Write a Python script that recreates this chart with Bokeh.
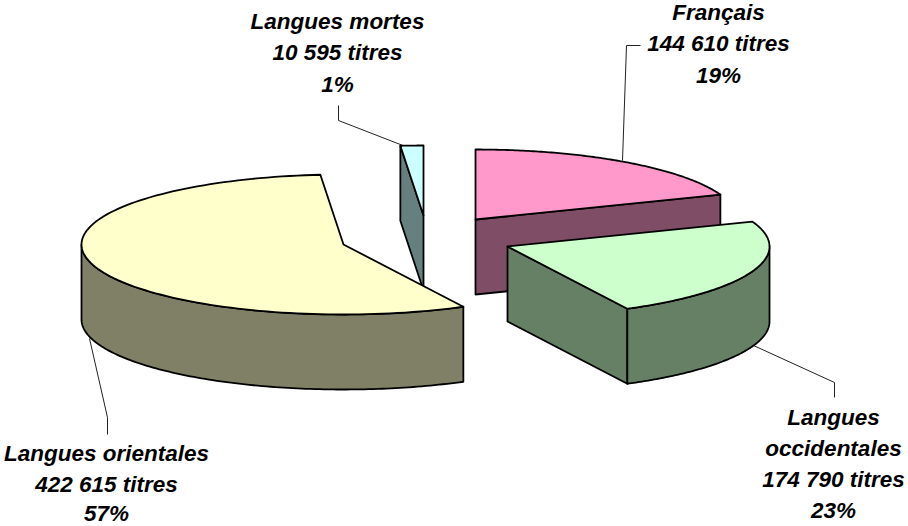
import numpy as np
from bokeh.plotting import figure
from bokeh.models import Range1d
from bokeh.core.properties import value
from bokeh.embed import file_html
from bokeh.resources import INLINE

# Data
categories = ["Français", "Langues occidentales", "Langues orientales", "Langues mortes"]
titres = [144610, 174790, 422615, 10595]
top_colors = ["#FF99CC", "#CCFFCC", "#FFFFCC", "#CCFFFF"]
side_colors = ["#804D66", "#668066", "#808066", "#668080"]

label_lines = ["Français", "144 610 titres", "19%",
               "Langues", "occidentales", "174 790 titres", "23%",
               "Langues orientales", "422 615 titres", "57%",
               "Langues mortes", "10 595 titres", "1%"]
label_x = [718, 718, 718, 833, 833, 833, 833, 106, 106, 106, 337, 337, 337]
label_y = [12, 43, 75, 417, 448, 479, 510, 453, 484, 512.5, 21, 52, 84]

# Exploded slice centres (screen pixels)
centres = {"Français": (475, 219), "Langues occidentales": (507, 246),
           "Langues orientales": (343, 244), "Langues mortes": (423, 215)}
RX, RY, DEPTH = 262, 70, 75
LW = 1.8

leaders = [([622, 626, 640], [160, 45, 45]),
           ([753, 834, 834], [345, 382, 397]),
           ([89, 107, 107], [338, 417, 434]),
           ([338, 338, 405], [105, 120, 146])]

p = figure(width=908, height=526, output_backend="svg", toolbar_location=None,
           x_range=Range1d(0, 908), y_range=Range1d(526, 0),
           x_axis_type=None, y_axis_type=None, min_border=0,
           outline_line_color=None, background_fill_color="white")
p.styles = {"position": "absolute", "left": "0px", "top": "0px"}
p.grid.visible = False

total = sum(titres)
angles = np.cumsum([0] + [t / total * 360 for t in titres])
span = {c: (angles[i], angles[i + 1]) for i, c in enumerate(categories)}


def rim(c, a0, a1, dz=0, n=120):
    cx, cy = centres[c]
    th = np.radians(np.linspace(a0, a1, n))
    return cx + RX * np.sin(th), cy - RY * np.cos(th) + dz


def pt(c, a):
    x, y = rim(c, a, a, n=1)
    return float(x[0]), float(y[0])


def draw_slice(c, cut_angle=None, outer=None):
    i = categories.index(c)
    a0, a1 = span[c]
    cx, cy = centres[c]
    kw = dict(line_color="black", line_width=LW, line_join="round")
    if cut_angle is not None:
        x, y = pt(c, cut_angle)
        p.patch([cx, x, x, cx], [cy, y, y + DEPTH, cy + DEPTH],
                fill_color=side_colors[i], **kw)
    if outer is not None:
        xt, yt = rim(c, outer[0], outer[1])
        xb, yb = rim(c, outer[1], outer[0], DEPTH)
        p.patch(np.r_[xt, xb], np.r_[yt, yb], fill_color=side_colors[i], **kw)
    x, y = rim(c, a0, a1)
    p.patch(np.r_[cx, x], np.r_[cy, y], fill_color=top_colors[i], **kw)


for xs, ys in leaders:
    p.line(xs, ys, line_color="#222222", line_width=1)

draw_slice("Langues mortes", cut_angle=span["Langues mortes"][0])
draw_slice("Français", cut_angle=span["Français"][1])
draw_slice("Langues orientales", outer=(span["Langues orientales"][0], 270))
draw_slice("Langues occidentales", cut_angle=span["Langues occidentales"][1],
           outer=(90, span["Langues occidentales"][1]))

p.text(label_x, label_y, text=label_lines, text_font=value("Liberation Sans"),
       text_font_style="bold italic", text_font_size="22.5px", text_color="black",
       text_align="center", text_baseline="middle")

open("out.html", "w").write(file_html(p, INLINE))
